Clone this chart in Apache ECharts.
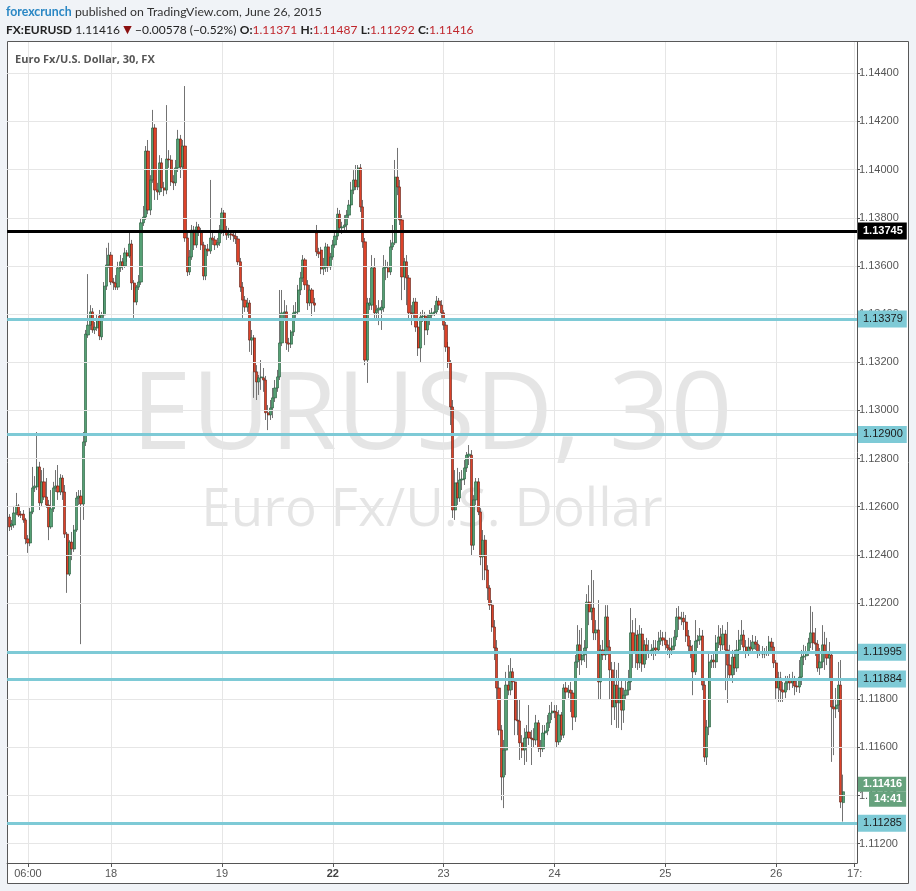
<!DOCTYPE html>
<html><head><meta charset="utf-8">
<script src="https://cdn.jsdelivr.net/npm/echarts@6/dist/echarts.min.js"></script>
<style>html,body{margin:0;padding:0;background:#f0f3f7;}#c{width:916px;height:891px;}</style>
</head><body><div id="c"></div>
<script>
// OHLC per 30-minute bar: [open, close, low, high]
const jun17 = [
[1.12557,1.12516,1.12499,1.12569],[1.12520,1.12528,1.12503,1.12545],[1.12524,1.12574,1.12512,1.12603],[1.12574,1.12603,1.12565,1.12657],
[1.12603,1.12565,1.12557,1.12611],[1.12569,1.12565,1.12553,1.12582],[1.12569,1.12545,1.12533,1.12586],[1.12545,1.12466,1.12444,1.12553],
[1.12466,1.12449,1.12408,1.12482],[1.12449,1.12578,1.12436,1.12595],[1.12578,1.12678,1.12569,1.12765],[1.12678,1.12686,1.12661,1.12727],
[1.12682,1.12765,1.12669,1.12910],[1.12765,1.12616,1.12586,1.12786],[1.12616,1.12703,1.12603,1.12752],[1.12703,1.12640,1.12628,1.12761],
[1.12640,1.12607,1.12595,1.12719],[1.12607,1.12516,1.12461,1.12628],[1.12516,1.12591,1.12508,1.12669],[1.12591,1.12678,1.12578,1.12703],
[1.12678,1.12686,1.12661,1.12752],[1.12686,1.12661,1.12628,1.12773],[1.12661,1.12719,1.12648,1.12735],[1.12719,1.12661,1.12628,1.12731],
[1.12661,1.12486,1.12470,1.12690],[1.12486,1.12320,1.12242,1.12495],[1.12320,1.12453,1.12312,1.12461],[1.12453,1.12424,1.12378,1.12495],
[1.12424,1.12503,1.12412,1.12524],[1.12503,1.12636,1.12495,1.12661],[1.12636,1.12644,1.12607,1.12669],[1.12644,1.12611,1.12029,1.12669],
[1.12611,1.12869,1.12545,1.12910],[1.12869,1.13317,1.12852,1.13334],[1.13313,1.13354,1.13301,1.13566],[1.13354,1.13409,1.13334,1.13437],
[1.13409,1.13334,1.13322,1.13425],[1.13334,1.13346,1.13317,1.13367],[1.13342,1.13380,1.13330,1.13400],[1.13392,1.13309,1.13292,1.13417],
[1.13305,1.13396,1.13292,1.13409],[1.13396,1.13516,1.13384,1.13533],[1.13516,1.13604,1.13500,1.13675],[1.13604,1.13645,1.13592,1.13696]
];
const jun18 = [
[1.13645,1.13533,1.13521,1.13658],[1.13533,1.13529,1.13500,1.13550],[1.13529,1.13512,1.13500,1.13562],[1.13512,1.13592,1.13500,1.13617],
[1.13592,1.13617,1.13575,1.13645],[1.13617,1.13600,1.13583,1.13633],[1.13600,1.13654,1.13592,1.13675],[1.13654,1.13641,1.13617,1.13666],
[1.13641,1.13691,1.13633,1.13741],[1.13691,1.13529,1.13500,1.13708],[1.13529,1.13450,1.13384,1.13541],[1.13450,1.13512,1.13437,1.13521],
[1.13512,1.13533,1.13500,1.13562],[1.13533,1.13779,1.13521,1.13799],[1.13779,1.13803,1.13766,1.13849],[1.13803,1.14077,1.13791,1.14098],
[1.14077,1.13832,1.13815,1.14123],[1.13832,1.13957,1.13811,1.13977],[1.13957,1.14173,1.13945,1.14248],[1.14173,1.13915,1.13874,1.14189],
[1.13915,1.13907,1.13874,1.13945],[1.13907,1.14028,1.13894,1.14060],[1.14028,1.13924,1.13907,1.14048],[1.13924,1.13915,1.13890,1.13949],
[1.13915,1.14044,1.13898,1.14268],[1.14044,1.14040,1.14007,1.14081],[1.14040,1.13949,1.13932,1.14060],[1.13949,1.13945,1.13915,1.13977],
[1.13945,1.14007,1.13932,1.14040],[1.14007,1.14127,1.13990,1.14165],[1.14127,1.14011,1.13965,1.14144],[1.14011,1.14098,1.13998,1.14123],
[1.14098,1.13716,1.13700,1.14347],[1.13716,1.13575,1.13558,1.13741],[1.13575,1.13637,1.13562,1.13666],[1.13637,1.13749,1.13625,1.13770],
[1.13749,1.13687,1.13666,1.13766],[1.13687,1.13762,1.13675,1.13783],[1.13762,1.13741,1.13724,1.13774],[1.13741,1.13687,1.13666,1.13758],
[1.13687,1.13558,1.13541,1.13700],[1.13558,1.13670,1.13541,1.13687],[1.13670,1.13662,1.13641,1.13691],[1.13662,1.13716,1.13650,1.13957],
[1.13716,1.13708,1.13687,1.13741],[1.13708,1.13687,1.13666,1.13724],[1.13687,1.13696,1.13675,1.13716],[1.13696,1.13749,1.13683,1.13770]
];
const jun19 = [
[1.13749,1.13820,1.13733,1.13841],[1.13820,1.13745,1.13724,1.13832],[1.13745,1.13728,1.13708,1.13766],[1.13728,1.13733,1.13716,1.13758],
[1.13733,1.13728,1.13708,1.13749],[1.13728,1.13724,1.13700,1.13749],[1.13724,1.13712,1.13691,1.13741],[1.13712,1.13617,1.13604,1.13724],
[1.13617,1.13512,1.13492,1.13633],[1.13512,1.13458,1.13384,1.13533],[1.13458,1.13429,1.13409,1.13475],[1.13429,1.13446,1.13409,1.13467],
[1.13446,1.13292,1.13243,1.13458],[1.13292,1.13301,1.13230,1.13334],[1.13301,1.13160,1.13052,1.13313],[1.13160,1.13118,1.13043,1.13188],
[1.13118,1.13135,1.13064,1.13147],[1.13135,1.13139,1.13085,1.13209],[1.13135,1.13126,1.13077,1.13176],[1.13126,1.12990,1.12960,1.13143],
[1.12990,1.12981,1.12918,1.13022],[1.12981,1.13010,1.12960,1.13043],[1.13010,1.13052,1.12968,1.13093],[1.13052,1.13093,1.13035,1.13126],
[1.13093,1.13139,1.13077,1.13168],[1.13139,1.13280,1.13126,1.13500],[1.13280,1.13405,1.13267,1.13500],[1.13405,1.13409,1.13375,1.13458],
[1.13409,1.13280,1.13251,1.13437],[1.13280,1.13275,1.13243,1.13301],[1.13275,1.13326,1.13259,1.13334],[1.13326,1.13405,1.13309,1.13437],
[1.13405,1.13409,1.13384,1.13450],[1.13409,1.13500,1.13396,1.13521],[1.13500,1.13550,1.13479,1.13575],[1.13550,1.13625,1.13533,1.13645],
[1.13625,1.13521,1.13500,1.13633],[1.13521,1.13446,1.13417,1.13541],[1.13446,1.13500,1.13433,1.13521],[1.13500,1.13446,1.13392,1.13508],
[1.13446,1.13437,1.13409,1.13467],[1.13737,1.13658,1.13641,1.13770],[1.13658,1.13650,1.13633,1.13675],[1.13666,1.13587,1.13566,1.13679],
[1.13587,1.13596,1.13562,1.13633],[1.13592,1.13679,1.13575,1.13696],[1.13679,1.13596,1.13575,1.13691],[1.13596,1.13637,1.13583,1.13654]
];
const jun22 = [
[1.13637,1.13687,1.13625,1.13708],[1.13687,1.13724,1.13675,1.13741],[1.13724,1.13815,1.13708,1.13841],[1.13815,1.13758,1.13741,1.13832],
[1.13758,1.13762,1.13733,1.13783],[1.13762,1.13770,1.13741,1.13811],[1.13770,1.13811,1.13749,1.13832],[1.13811,1.13853,1.13799,1.13874],
[1.13853,1.13915,1.13841,1.13949],[1.13915,1.13957,1.13898,1.13998],[1.13957,1.13928,1.13915,1.14019],[1.13928,1.14007,1.13915,1.14019],
[1.14007,1.13845,1.13824,1.14023],[1.13845,1.13700,1.13675,1.13874],[1.13700,1.13209,1.13188,1.13716],[1.13209,1.13446,1.13114,1.13467],
[1.13437,1.13446,1.13417,1.13467],[1.13437,1.13592,1.13417,1.13645],[1.13592,1.13405,1.13384,1.13633],[1.13405,1.13417,1.13375,1.13437],
[1.13417,1.13425,1.13354,1.13458],[1.13417,1.13429,1.13334,1.13458],[1.13425,1.13592,1.13409,1.13645],[1.13592,1.13596,1.13541,1.13625],
[1.13592,1.13575,1.13550,1.13617],[1.13575,1.13679,1.13562,1.13708],[1.13679,1.13696,1.13666,1.13770],[1.13696,1.13969,1.13687,1.14040],
[1.13969,1.13928,1.13894,1.14090],[1.13928,1.13791,1.13770,1.13957],[1.13791,1.13554,1.13458,1.13811],[1.13554,1.13617,1.13500,1.13633],
[1.13617,1.13550,1.13437,1.13645],[1.13550,1.13405,1.13375,1.13562],[1.13405,1.13400,1.13354,1.13437],[1.13405,1.13450,1.13384,1.13467],
[1.13450,1.13346,1.13326,1.13467],[1.13346,1.13259,1.13226,1.13367],[1.13259,1.13388,1.13201,1.13409],[1.13388,1.13392,1.13367,1.13417],
[1.13392,1.13334,1.13271,1.13409],[1.13334,1.13384,1.13313,1.13400],[1.13384,1.13396,1.13354,1.13417],[1.13396,1.13405,1.13375,1.13425],
[1.13405,1.13409,1.13392,1.13437],[1.13409,1.13454,1.13400,1.13475],[1.13454,1.13437,1.13417,1.13467],[1.13437,1.13405,1.13384,1.13458]
];
const jun23 = [
[1.13405,1.13354,1.13334,1.13417],[1.13354,1.13263,1.13243,1.13367],[1.13263,1.13197,1.13176,1.13284],[1.13197,1.13014,1.12939,1.13209],
[1.13014,1.12586,1.12553,1.13043],[1.12586,1.12699,1.12545,1.12752],[1.12699,1.12636,1.12607,1.12761],[1.12636,1.12711,1.12620,1.12744],
[1.12711,1.12715,1.12669,1.12752],[1.12715,1.12761,1.12690,1.12794],[1.12761,1.12814,1.12744,1.12827],[1.12810,1.12818,1.12773,1.12856],
[1.12814,1.12440,1.12399,1.12835],[1.12440,1.12628,1.12420,1.12648],[1.12628,1.12703,1.12607,1.12719],[1.12703,1.12578,1.12565,1.12719],
[1.12578,1.12391,1.12357,1.12595],[1.12391,1.12461,1.12295,1.12503],[1.12461,1.12337,1.12295,1.12482],[1.12337,1.12262,1.12212,1.12357],
[1.12262,1.12191,1.12171,1.12274],[1.12191,1.12100,1.12080,1.12212],[1.12100,1.12013,1.11963,1.12129],[1.12013,1.11847,1.11797,1.12046],
[1.11847,1.11672,1.11651,1.11880],[1.11672,1.11477,1.11381,1.11693],[1.11477,1.11589,1.11348,1.11631],[1.11589,1.11859,1.11485,1.11914],
[1.11859,1.11838,1.11817,1.11942],[1.11838,1.11914,1.11817,1.11971],[1.11914,1.11872,1.11838,1.11930],[1.11872,1.11714,1.11651,1.11888],
[1.11714,1.11710,1.11651,1.11797],[1.11710,1.11619,1.11548,1.11797],[1.11619,1.11589,1.11556,1.11651],[1.11589,1.11639,1.11527,1.11680],
[1.11639,1.11664,1.11540,1.11693],[1.11664,1.11639,1.11610,1.11776],[1.11639,1.11635,1.11527,1.11672],[1.11635,1.11631,1.11598,1.11680],
[1.11631,1.11702,1.11610,1.11735],[1.11702,1.11598,1.11581,1.11714],[1.11598,1.11594,1.11560,1.11631],[1.11594,1.11660,1.11581,1.11693],
[1.11660,1.11668,1.11631,1.11693],[1.11668,1.11702,1.11651,1.11735],[1.11702,1.11743,1.11681,1.11776],[1.11743,1.11751,1.11714,1.11789]
];
const jun24 = [
[1.11751,1.11747,1.11722,1.11776],[1.11747,1.11623,1.11598,1.11776],[1.11623,1.11735,1.11610,1.11755],[1.11735,1.11651,1.11631,1.11747],
[1.11651,1.11847,1.11639,1.11863],[1.11847,1.11830,1.11797,1.11872],[1.11830,1.11838,1.11805,1.11859],[1.11838,1.11826,1.11747,1.11872],
[1.11826,1.11726,1.11672,1.11838],[1.11726,1.11955,1.11706,1.11984],[1.11955,1.12026,1.11930,1.12108],[1.12026,1.11963,1.11901,1.12088],
[1.11963,1.11984,1.11942,1.12096],[1.11984,1.12013,1.11955,1.12046],[1.12013,1.12204,1.11930,1.12237],[1.12204,1.12163,1.12108,1.12274],
[1.12163,1.12179,1.12129,1.12337],[1.12179,1.12076,1.12046,1.12295],[1.12076,1.12088,1.12046,1.12129],[1.12088,1.11872,1.11797,1.12212],
[1.11872,1.12005,1.11797,1.12026],[1.12005,1.11984,1.11963,1.12046],[1.11984,1.12142,1.11963,1.12191],[1.12142,1.12017,1.11984,1.12191],
[1.12017,1.11922,1.11797,1.12046],[1.11922,1.11768,1.11693,1.11955],[1.11768,1.11859,1.11714,1.11955],[1.11859,1.11785,1.11681,1.11922],
[1.11785,1.11847,1.11681,1.11951],[1.11847,1.11755,1.11672,1.11880],[1.11755,1.11817,1.11702,1.11847],[1.11817,1.11838,1.11797,1.11880],
[1.11838,1.11872,1.11817,1.11922],[1.11872,1.12076,1.11838,1.12179],[1.12076,1.11992,1.11930,1.12129],[1.11992,1.12067,1.11930,1.12137],
[1.12067,1.11951,1.11922,1.12088],[1.11951,1.12071,1.11930,1.12108],[1.12071,1.11946,1.11914,1.12096],[1.11946,1.12026,1.11930,1.12046],
[1.12026,1.11996,1.11963,1.12055],[1.11996,1.12001,1.11971,1.12046],[1.12001,1.12005,1.11980,1.12029],[1.12005,1.12013,1.11963,1.12046],
[1.12013,1.12005,1.11980,1.12046],[1.12005,1.12042,1.11996,1.12080],[1.12042,1.12055,1.12026,1.12088],[1.12055,1.12046,1.12021,1.12080]
];
const jun25 = [
[1.12046,1.12026,1.12005,1.12080],[1.12026,1.12013,1.11984,1.12046],[1.12013,1.12005,1.11971,1.12055],[1.12005,1.12021,1.11984,1.12055],
[1.12021,1.12059,1.12005,1.12088],[1.12059,1.12142,1.12046,1.12179],[1.12142,1.12133,1.12088,1.12187],[1.12133,1.12137,1.12108,1.12163],
[1.12137,1.12121,1.12088,1.12163],[1.12121,1.12063,1.12038,1.12150],[1.12063,1.12021,1.11996,1.12088],[1.12021,1.11996,1.11971,1.12046],
[1.11996,1.11914,1.11817,1.12026],[1.11914,1.12042,1.11901,1.12129],[1.12042,1.12046,1.12013,1.12067],[1.12046,1.12063,1.12026,1.12096],
[1.12063,1.11859,1.11838,1.12088],[1.11859,1.11560,1.11540,1.11880],[1.11560,1.11685,1.11527,1.11714],[1.11685,1.11955,1.11651,1.11996],
[1.11955,1.11963,1.11930,1.11984],[1.11963,1.11955,1.11930,1.11996],[1.11955,1.12034,1.11930,1.12067],[1.12034,1.12059,1.12013,1.12108],
[1.12059,1.12026,1.11996,1.12096],[1.12026,1.12071,1.12005,1.12108],[1.12071,1.12005,1.11838,1.12088],[1.12005,1.11942,1.11785,1.12121],
[1.11942,1.11901,1.11880,1.12026],[1.11901,1.11975,1.11868,1.12005],[1.11975,1.11930,1.11901,1.12005],[1.11930,1.12005,1.11914,1.12046],
[1.12005,1.12046,1.11984,1.12088],[1.12046,1.12067,1.12026,1.12129],[1.12067,1.12017,1.11996,1.12088],[1.12017,1.11992,1.11971,1.12046],
[1.11992,1.12017,1.11980,1.12055],[1.12017,1.12009,1.11988,1.12046],[1.12009,1.12038,1.11996,1.12067],[1.12038,1.12029,1.12005,1.12063],
[1.12029,1.11992,1.11971,1.12046],[1.11992,1.11996,1.11980,1.12026],[1.11996,1.11988,1.11971,1.12021],[1.11988,1.11992,1.11971,1.12013],
[1.11992,1.11996,1.11980,1.12021],[1.11996,1.12038,1.11980,1.12063],[1.12038,1.12017,1.11996,1.12055],[1.12017,1.11951,1.11930,1.12038]
];
const jun26 = [
[1.11951,1.11847,1.11797,1.11963],[1.11847,1.11888,1.11789,1.11914],[1.11888,1.11838,1.11789,1.11914],[1.11838,1.11830,1.11789,1.11872],
[1.11830,1.11868,1.11805,1.11897],[1.11868,1.11880,1.11838,1.11897],[1.11880,1.11868,1.11838,1.11905],[1.11868,1.11876,1.11847,1.11914],
[1.11876,1.11855,1.11817,1.11897],[1.11855,1.11851,1.11830,1.11880],[1.11851,1.11892,1.11826,1.11963],[1.11892,1.11975,1.11859,1.12005],
[1.11975,1.11980,1.11942,1.12026],[1.11980,1.11996,1.11963,1.12021],[1.11996,1.12034,1.11980,1.12055],[1.12034,1.12076,1.12013,1.12187],
[1.12076,1.12034,1.12005,1.12163],[1.12034,1.12029,1.11980,1.12096],[1.12029,1.11930,1.11914,1.12046],[1.11930,1.11955,1.11901,1.12013],
[1.11955,1.12026,1.11930,1.12108],[1.12026,1.11992,1.11922,1.12080],[1.11992,1.11971,1.11942,1.12055],[1.11971,1.11984,1.11880,1.12038],
[1.11984,1.11768,1.11540,1.11996],[1.11768,1.11760,1.11568,1.11797],[1.11760,1.11776,1.11722,1.11847],[1.11776,1.11859,1.11747,1.11955],
[1.11859,1.11373,1.11348,1.11963],[1.11371,1.11416,1.11292,1.11487]
];

// sessions: [day label, first half-hour slot, number of slots]
const sessions = [['17',3,45],['18',0,48],['19',0,48],['22',0,48],['23',0,48],['24',0,48],['25',0,48],['26',0,36]];
const xTickLabels = {'17 06:00':'06:00','18 00:00':'18','19 00:00':'19','22 00:00':'{b|22}','23 00:00':'23','24 00:00':'24','25 00:00':'25','26 00:00':'26','26 17:00':'17:'};
const yTicks = [1.112,1.114,1.116,1.118,1.120,1.122,1.124,1.126,1.128,1.130,1.132,1.134,1.136,1.138,1.140,1.142,1.144];
const cyanLevels = [1.13379,1.12900,1.11995,1.11884,1.11285];
const blackLevel = 1.13745;
const lastPrice = 1.11416;
const countdown = '14:41';

const categories = [];
sessions.forEach(([d, s, n]) => {
  for (let k = s; k < s + n; k++) {
    const hh = String(Math.floor(k / 2)).padStart(2, '0');
    const mm = k % 2 ? '30' : '00';
    categories.push(d + ' ' + hh + ':' + mm);
  }
});
const candles = ['-'].concat(jun17, jun18, jun19, jun22, jun23, jun24, jun25, jun26);
const bodies = candles.map(d => d === '-' ? '-' : [d[0], d[1], Math.min(d[0], d[1]), Math.max(d[0], d[1])]);
const isTick = (i, v) => Object.prototype.hasOwnProperty.call(xTickLabels, v !== undefined ? v : categories[i]);

const AX = '"Liberation Sans", Arial, sans-serif';
const HF = 'Lato, sans-serif';
const lvlLabel = (bg, fg, bold) => ({
  show: true, position: 'end', distance: 1, formatter: p => Number(p.value).toFixed(5),
  backgroundColor: bg, color: fg, fontWeight: bold ? 'bold' : 'normal', fontSize: 11, fontFamily: AX,
  padding: [2, 4, 2, 5], lineHeight: 13
});

const chart = echarts.init(document.getElementById('c'), null, {renderer: 'canvas'});
chart.setOption({
  animation: false,
  backgroundColor: '#f0f3f7',
  grid: {left: 7.14, right: 59, top: 42, bottom: 28, containLabel: false},
  xAxis: {
    type: 'category', data: categories, boundaryGap: false,
    axisLine: {show: true, lineStyle: {color: '#555', width: 1}},
    axisTick: {show: true, interval: isTick, length: 4, lineStyle: {color: '#555'}},
    axisLabel: {interval: isTick, formatter: v => xTickLabels[v] || '', color: '#555', fontSize: 11, fontFamily: AX, margin: 5,
      rich: {b: {fontWeight: 'bold', color: '#444', fontSize: 11, fontFamily: AX}}},
    splitLine: {show: true, interval: isTick, lineStyle: {color: '#e6e6e6', width: 1}}
  },
  yAxis: {
    type: 'value', position: 'right', min: 1.1112, max: 1.1453, scale: true,
    axisLine: {show: true, lineStyle: {color: '#555', width: 1}},
    axisTick: {show: true, customValues: yTicks, length: 3, lineStyle: {color: '#555'}},
    axisLabel: {customValues: yTicks, formatter: v => v.toFixed(5), color: '#555', fontSize: 11, fontFamily: AX, margin: 2},
    splitLine: {show: false}
  },
  graphic: [
    {type: 'rect', z: -20, silent: true, shape: {x: 7.5, y: 41.5, width: 901, height: 842}, style: {fill: '#ffffff', stroke: '#585858', lineWidth: 1}},
    {type: 'text', z: -5, silent: true, style: {x: 432, y: 418, text: 'EURUSD, 30', fontFamily: '"Open Sans", sans-serif', fontSize: 108, fill: 'rgba(0,0,0,0.1)', textAlign: 'center', textVerticalAlign: 'middle'}},
    {type: 'text', z: -5, silent: true, style: {x: 432, y: 511, text: 'Euro Fx/U.S. Dollar', fontFamily: '"Open Sans", sans-serif', fontSize: 53, fill: 'rgba(0,0,0,0.1)', textAlign: 'center', textVerticalAlign: 'middle'}},
    {type: 'text', silent: true, style: {x: 15, y: 60, text: 'Euro Fx/U.S. Dollar, 30, FX', fontFamily: '"Open Sans", sans-serif', fontWeight: 'bold', fontSize: 11, fill: '#555', textVerticalAlign: 'middle'}},
    {type: 'text', silent: true, style: {x: 6, y: 12, textVerticalAlign: 'middle',
      text: '{a|forexcrunch} {b|published on TradingView.com, June 26, 2015}',
      rich: {a: {fill: '#2a87c4', fontWeight: 'bold', fontSize: 12.3, fontFamily: HF}, b: {fill: '#333', fontSize: 12.3, fontFamily: HF}}}},
    {type: 'text', silent: true, style: {x: 6, y: 30, textVerticalAlign: 'middle',
      text: '{k|FX:EURUSD} {n|1.11416} {t|▼} {n|−0.00578 (−0.52%)} {k|O:}{r|1.11371} {k|H:}{r|1.11487} {k|L:}{r|1.11292} {k|C:}{r|1.11416}',
      rich: {
        k: {fill: '#222', fontWeight: 'bold', fontSize: 12, fontFamily: HF},
        n: {fill: '#222', fontSize: 12, fontFamily: HF},
        t: {fill: '#8b1010', fontSize: 11, fontFamily: '"DejaVu Sans", sans-serif'},
        r: {fill: '#c0262c', fontSize: 12, fontFamily: HF}
      }}}
  ],
  series: [
    {
      type: 'line', data: [], z: 1, silent: true, symbol: 'none',
      markLine: {silent: true, precision: 5, symbol: ['none', 'none'], animation: false, label: {show: false},
        lineStyle: {color: '#e6e6e6', width: 1, type: 'solid'},
        data: yTicks.map(v => ({yAxis: v}))}
    },
    {
      type: 'candlestick', name: 'wicks', data: candles, barWidth: 1, clip: false, z: 2, silent: true,
      itemStyle: {color: '#737373', color0: '#737373', borderColor: '#737373', borderColor0: '#737373', borderWidth: 1}
    },
    {
      type: 'candlestick', name: 'bodies', data: bodies, barWidth: 2.7, clip: false, z: 3, silent: true,
      itemStyle: {color: '#55a075', color0: '#dd4229', borderColor: '#1d5734', borderColor0: '#5e1c12', borderWidth: 0.6}
    },
    {
      type: 'line', data: [], z: 5, silent: true, symbol: 'none',
      markLine: {silent: true, precision: 5, symbol: ['none', 'none'], animation: false,
        data: [
          {yAxis: blackLevel, lineStyle: {color: '#000', width: 3, type: 'solid'}, label: lvlLabel('#000', '#fff', true)}
        ].concat(cyanLevels.map(v => ({yAxis: v, lineStyle: {color: '#7ecad6', width: 3, type: 'solid'}, label: lvlLabel('#7ecad6', '#1b1b1b', false)})))}
    },
    {
      type: 'line', data: [], z: 6, silent: true, symbol: 'none',
      markLine: {silent: true, precision: 5, symbol: ['none', 'none'], animation: false,
        lineStyle: {color: 'rgba(0,0,0,0)', width: 1, type: 'solid'},
        label: {show: true, position: 'end', distance: 1,
          formatter: p => '{a|' + Number(p.value).toFixed(5) + '}\n{g|}\n{b|' + countdown + '}',
          rich: {
            a: {backgroundColor: '#66a27d', color: '#fff', fontWeight: 'bold', fontSize: 11, fontFamily: AX, padding: [2, 4, 2, 5], lineHeight: 13},
            g: {height: 2, lineHeight: 2, fontSize: 1},
            b: {backgroundColor: '#66a27d', color: '#fff', fontWeight: 'bold', fontSize: 11, fontFamily: AX, padding: [2, 4, 2, 5], lineHeight: 13, align: 'right'}
          }},
        data: [{yAxis: lastPrice}]}
    }
  ]
});
</script></body></html>
